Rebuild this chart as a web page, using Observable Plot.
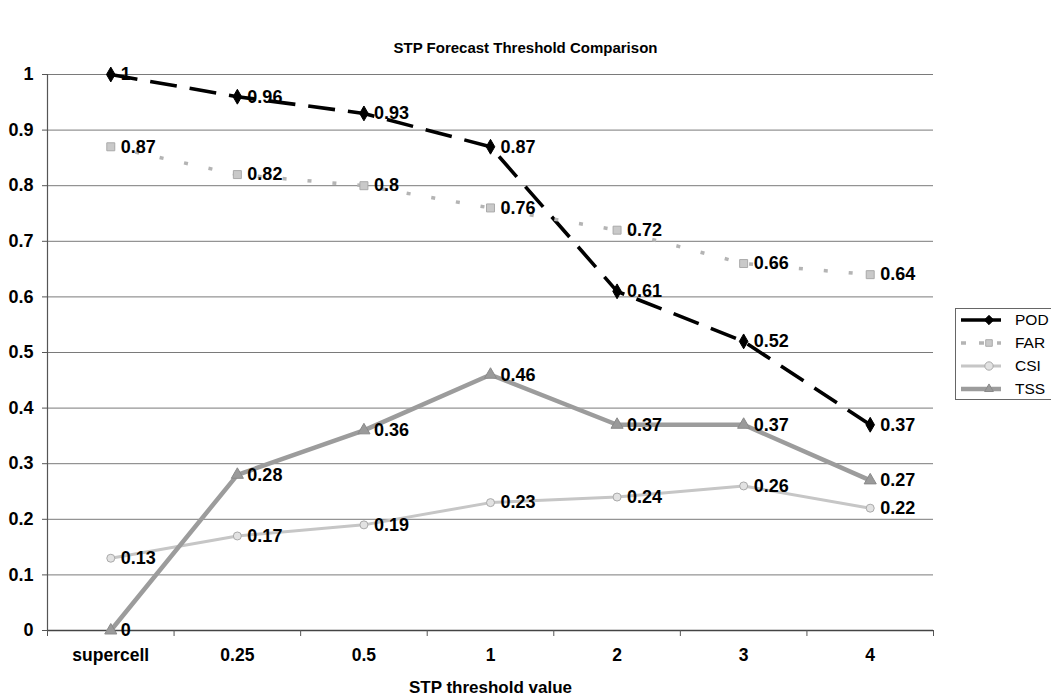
<!DOCTYPE html>
<html>
<head>
<meta charset="utf-8">
<script src="https://cdn.jsdelivr.net/npm/d3@7"></script>
<script src="https://cdn.jsdelivr.net/npm/@observablehq/plot@0.6"></script>
<style>
  body { margin: 0; background: #fff; font-family: "Liberation Sans", Arial, sans-serif; }
  #wrap { position: relative; width: 1051px; height: 696px; }
  #title { position: absolute; left: 0; width: 1051px; top: 39px; text-align: center; font-weight: bold; font-size: 15px; }
  #legend { position: absolute; left: 955px; top: 308px; width: 96px; height: 92px; border: 1px solid #666; border-right: none; background: #fff; box-sizing: border-box; }
  .lrow { position: absolute; left: 0; height: 22px; display: flex; align-items: center; }
  .lrow span { font-size: 15.5px; margin-left: 12px; }
</style>
</head>
<body>
<div id="wrap">
  <div id="title">STP Forecast Threshold Comparison</div>
  <div id="chart"></div>
  <div id="legend"></div>
</div>
<script>
const categories = ["supercell", "0.25", "0.5", "1", "2", "3", "4"];
const POD = [1, 0.96, 0.93, 0.87, 0.61, 0.52, 0.37];
const FAR = [0.87, 0.82, 0.8, 0.76, 0.72, 0.66, 0.64];
const CSI = [0.13, 0.17, 0.19, 0.23, 0.24, 0.26, 0.22];
const TSS = [0, 0.28, 0.36, 0.46, 0.37, 0.37, 0.27];
const seriesNames = ["POD", "FAR", "CSI", "TSS"];
const yTicks = [0, 0.1, 0.2, 0.3, 0.4, 0.5, 0.6, 0.7, 0.8, 0.9, 1];

const seriesValues = {POD, FAR, CSI, TSS};
const styles = {
  POD: {stroke: "#000", strokeWidth: 3.6, dash: "27,13", symbol: "diamond", fill: "#000", mstroke: "#000", r: 4.5},
  FAR: {stroke: "#b4b4b4", strokeWidth: 3.5, dash: "4,21", symbol: "square", fill: "#c9c9c9", mstroke: "#aaa", r: 4.5},
  CSI: {stroke: "#c6c6c6", strokeWidth: 3, dash: null, symbol: "circle", fill: "#e2e2e2", mstroke: "#aaa", r: 4},
  TSS: {stroke: "#9c9c9c", strokeWidth: 4.5, dash: null, symbol: "triangle", fill: "#9a9a9a", mstroke: "#8a8a8a", r: 4.5}
};

const idx = categories.map((c, i) => i);
const edges = d3.range(-0.5, categories.length, 1);

const marks = [
  Plot.gridY(yTicks, {stroke: "#7a7a7a", strokeOpacity: 1, strokeWidth: 1}),
  Plot.ruleX([-0.5], {stroke: "#555", strokeWidth: 1.2}),
  Plot.ruleY([0], {stroke: "#444", strokeWidth: 1.4}),
  Plot.axisY(yTicks, {tickSize: 5, tickPadding: 9, fontSize: 18, fontWeight: "bold", stroke: "#555", tickFormat: d => String(+d.toFixed(1)), label: null}),
  Plot.axisX(edges, {tickSize: 6, tickFormat: () => "", stroke: "#555", label: null}),
  Plot.axisX(idx, {tickSize: 0, tickPadding: 18, fontSize: 17.5, fontWeight: "bold", tickFormat: i => categories[i], label: null}),
  Plot.text(["STP threshold value"], {frameAnchor: "bottom", dy: 62, fontSize: 17, fontWeight: "bold"})
];

for (const name of seriesNames) {
  const s = styles[name];
  const rows = seriesValues[name].map((v, i) => ({i, v}));
  marks.push(Plot.line(rows, {x: "i", y: "v", stroke: s.stroke, strokeWidth: s.strokeWidth, strokeDasharray: s.dash, strokeLinecap: "butt"}));
}
for (const name of seriesNames) {
  const s = styles[name];
  const rows = seriesValues[name].map((v, i) => ({i, v}));
  marks.push(Plot.dot(rows, {x: "i", y: "v", symbol: s.symbol, r: s.r, fill: s.fill, stroke: s.mstroke, strokeWidth: 1}));
}
for (const name of seriesNames) {
  const rows = seriesValues[name].map((v, i) => ({i, v}));
  marks.push(Plot.text(rows, {x: "i", y: "v", text: d => String(d.v), dx: 10, textAnchor: "start", fontSize: 18, fontWeight: "bold", fill: "#000"}));
}

const chart = Plot.plot({
  width: 1051,
  height: 696,
  marginTop: 74,
  marginBottom: 66,
  marginLeft: 47,
  marginRight: 118,
  style: {fontFamily: "Liberation Sans, Arial, sans-serif", background: "transparent", color: "#000"},
  x: {type: "linear", domain: [-0.5, categories.length - 0.5], axis: null},
  y: {domain: [0, 1], axis: null},
  marks
});
document.getElementById("chart").appendChild(chart);

// legend
const legend = document.getElementById("legend");
const rowTops = [0, 23, 46, 69];
seriesNames.forEach((name, k) => {
  const s = styles[name];
  const row = document.createElement("div");
  row.className = "lrow";
  row.style.top = (rowTops[k]) + "px";
  const svg = d3.create("svg").attr("width", 44).attr("height", 20).style("margin-left", 3);
  svg.append("line").attr("x1", 2).attr("x2", 42).attr("y1", 10).attr("y2", 10)
    .attr("stroke", s.stroke).attr("stroke-width", s.strokeWidth)
    .attr("stroke-dasharray", name === "FAR" ? "5,13" : null);
  const sym = d3.symbol().type({diamond: d3.symbolDiamond2, square: d3.symbolSquare2, circle: d3.symbolCircle, triangle: d3.symbolTriangle2}[s.symbol]).size(55);
  svg.append("path").attr("d", sym()).attr("transform", "translate(30,10)").attr("fill", s.fill).attr("stroke", s.mstroke);
  row.appendChild(svg.node());
  const t = document.createElement("span");
  t.textContent = name;
  row.appendChild(t);
  legend.appendChild(row);
});
</script>
</body>
</html>
